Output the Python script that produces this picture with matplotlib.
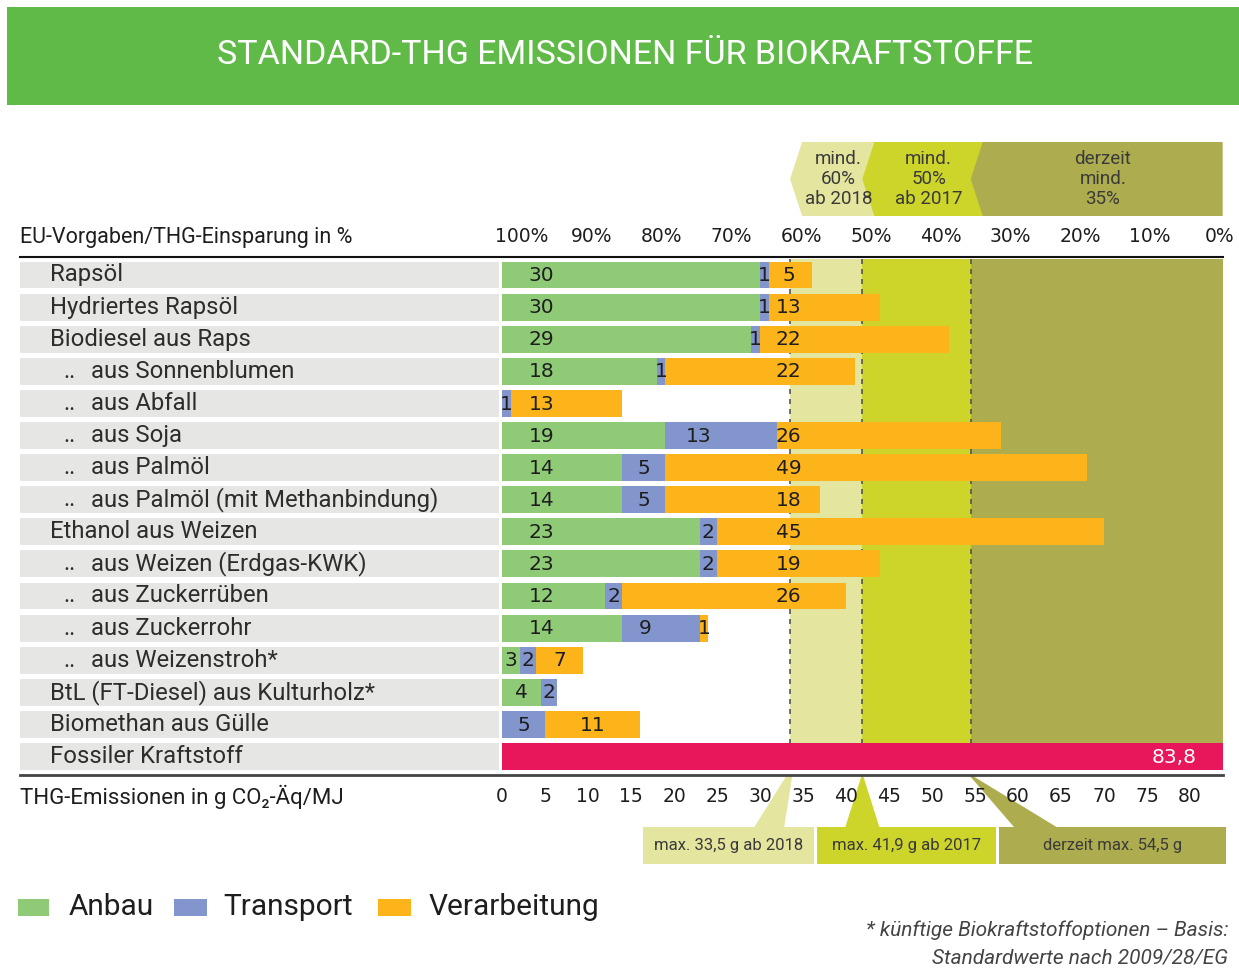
import matplotlib
matplotlib.use('Agg')
import matplotlib.pyplot as plt
from matplotlib.patches import Polygon, Rectangle

NARROW = 'Roboto'
LABEL_FONT = 'Roboto'
NUM_FONT = 'DejaVu Sans'

# ---------------- data ----------------
categories = [
    'Rapsöl', 'Hydriertes Rapsöl', 'Biodiesel aus Raps', '.. aus Sonnenblumen',
    '.. aus Abfall', '.. aus Soja', '.. aus Palmöl',
    '.. aus Palmöl (mit Methanbindung)', 'Ethanol aus Weizen',
    '.. aus Weizen (Erdgas-KWK)', '.. aus Zuckerrüben', '.. aus Zuckerrohr',
    '.. aus Weizenstroh*', 'BtL (FT-Diesel) aus Kulturholz*',
    'Biomethan aus Gülle', 'Fossiler Kraftstoff']

# drawn segment lengths (g CO2-Äq/MJ)
anbau = [30, 30, 29, 18, 0, 19, 14, 14, 23, 23, 12, 14, 2.1, 4.5, 0]
transport = [1, 1, 1, 1, 1, 13, 5, 5, 2, 2, 2, 9, 1.9, 1.9, 5]
verarbeitung = [5, 13, 22, 22, 13, 26, 49, 18, 45, 19, 26, 1, 5.4, 0, 11]
# printed labels
anbau_labels = ['30', '30', '29', '18', '', '19', '14', '14', '23', '23', '12', '14', '3', '4', '']
transport_labels = ['1', '1', '1', '1', '1', '13', '5', '5', '2', '2', '2', '9', '2', '2', '5']
verarbeitung_labels = ['5', '13', '22', '22', '13', '26', '49', '18', '45', '19', '26', '1', '7', '', '11']

fossil = 83.8
fossil_label = '83,8'

limits = [33.5, 41.9, 54.5]
limit_header = ['mind.\n60%\nab 2018', 'mind.\n50%\nab 2017', 'derzeit\nmind.\n35%']
limit_boxes = ['max. 33,5 g ab 2018', 'max. 41,9 g ab 2017', 'derzeit max. 54,5 g']
pct_ticks = [100, 90, 80, 70, 60, 50, 40, 30, 20, 10, 0]
emis_ticks = list(range(0, 85, 5))
series_names = ['Anbau', 'Transport', 'Verarbeitung']

# ---------------- style ----------------
C_TITLE = '#5fba47'
C_GRAY = '#e6e6e4'
C_A, C_T, C_V = '#8fcb76', '#8296cd', '#fdb41b'
C_FOSSIL = '#e8165a'
ZONE = ['#e4e59e', '#cdd52a', '#adad50']
TXT = '#1e1e1e'
ROWTXT = '#2d2d2d'

W, H = 1239, 969
PX = 8.6          # pixels per data unit
X0 = 502          # pixel of value 0
ROW0, ROWH = 275, 32.1


def X(px):
    return (px - X0) / PX


def Y(py):
    return (py - ROW0) / ROWH


fig = plt.figure(figsize=(W / 100, H / 100), dpi=100)
ax = fig.add_axes([0, 0, 1, 1])
ax.set_xlim(X(0), X(W))
ax.set_ylim(Y(H), Y(0))
ax.axis('off')

# title band
ax.add_patch(Rectangle((X(7), Y(7)), X(W) - X(7), Y(105) - Y(7), color=C_TITLE, lw=0))
ax.text(X(625), Y(55), 'STANDARD-THG EMISSIONEN FÜR BIOKRAFTSTOFFE', color='white',
        fontsize=24.5, family=NARROW, ha='center', va='center')

n = len(categories)
rows = list(range(n))
BH = 0.84

# header chevrons
ht, hb, hm = Y(142), Y(216), Y(179)
dep = 1.4
edges = limits + [fossil]
for i in range(3):
    a = edges[i]
    b = edges[i + 1] + (dep + 0.5 if i < 2 else 0)
    poly = [(a, hm), (a + dep, ht), (b, ht), (b, hb), (a + dep, hb)]
    ax.add_patch(Polygon(poly, closed=True, color=ZONE[i], lw=0, zorder=1 + i * 0.01))
    cx = (edges[i] + dep + edges[i + 1] + (dep if i < 2 else 0)) / 2
    ax.text(cx, hm, limit_header[i], ha='center', va='center', fontsize=13.5,
            family=NARROW, color='#3a3a3a', linespacing=1.12, zorder=3)

# upper axis labels
ax.text(X(20), Y(237), 'EU-Vorgaben/THG-Einsparung in %', family=LABEL_FONT, fontsize=15.5,
        color=TXT, ha='left', va='center')
p_left, p_right = X(522), X(1220)
for p in pct_ticks:
    ax.text(p_left + (p_right - p_left) * (100 - p) / 100, Y(237), f'{p}%', family=NUM_FONT,
            fontsize=13.5, color=TXT, ha='center', va='center')

# zones behind bars
ztop, zbot = -0.5, n - 1 - BH / 2 + 0.02
for i in range(3):
    ax.add_patch(Rectangle((edges[i], ztop), edges[i + 1] - edges[i], zbot - ztop,
                           color=ZONE[i], lw=0, zorder=0.5))
    ax.plot([limits[i], limits[i]], [ztop, zbot], color='#555555', lw=1.2,
            ls=(0, (3, 3)), zorder=1.5)

# row backgrounds and labels
ax.barh(rows, X(499) - X(20), left=X(20), height=BH, color=C_GRAY, zorder=1)
FS_ROW = 17.2
for r, name in zip(rows, categories):
    if name.startswith('.. '):
        ax.text(X(63), r, '..', family=LABEL_FONT, fontsize=FS_ROW, color=ROWTXT,
                ha='left', va='center')
        ax.text(X(91), r, name[3:], family=LABEL_FONT, fontsize=FS_ROW, color=ROWTXT,
                ha='left', va='center')
    else:
        ax.text(X(50), r, name, family=LABEL_FONT, fontsize=FS_ROW, color=ROWTXT,
                ha='left', va='center')

# stacked bars
bio_rows = rows[:-1]
lefts_t = [a for a in anbau]
lefts_v = [a + t for a, t in zip(anbau, transport)]
ax.barh(bio_rows, anbau, left=0, height=BH, color=C_A, zorder=2)
ax.barh(bio_rows, transport, left=lefts_t, height=BH, color=C_T, zorder=2)
ax.barh(bio_rows, verarbeitung, left=lefts_v, height=BH, color=C_V, zorder=2)
ax.barh([rows[-1]], [fossil], left=0, height=BH, color=C_FOSSIL, zorder=2)

COLS = (4.6, 33.3)
M = 1.2


def label_x(start, width, kind):
    end = start + width
    for col in COLS:
        if start + M <= col <= end - M:
            return col
    if kind == 't' and width > 6:
        return start + 0.3 * width
    return start + width / 2


for r in bio_rows:
    segs = [(0, anbau[r], anbau_labels[r], 'a'),
            (lefts_t[r], transport[r], transport_labels[r], 't'),
            (lefts_v[r], verarbeitung[r], verarbeitung_labels[r], 'v')]
    for s, w, lab, kind in segs:
        if lab and w > 0:
            ax.text(label_x(s, w, kind), r + 0.02, lab, family=NUM_FONT, fontsize=14.5,
                    color=TXT, ha='center', va='center', zorder=3)
ax.text(fossil - 3.0, rows[-1] + 0.02, fossil_label, family=NUM_FONT, fontsize=14.5,
        color='white', ha='right', va='center', zorder=3)

# horizontal rules
ax.plot([X(20), fossil], [Y(257), Y(257)], color='#111111', lw=1.5, zorder=3)
ax.plot([X(20), fossil], [Y(775), Y(775)], color='#444444', lw=2, zorder=3)

# lower axis
ax.text(X(20), Y(797), 'THG-Emissionen in g CO₂-Äq/MJ', family=[LABEL_FONT, 'DejaVu Sans'],
        fontsize=16, color=TXT, ha='left', va='center')
for t in emis_ticks:
    ax.text(t, Y(797), str(t), family=NUM_FONT, fontsize=13.5, color=TXT,
            ha='center', va='center', zorder=3)

# callout boxes with wedges
bt, bb = Y(827), Y(864)
box_px = [(643, 814), (817, 996), (999, 1226)]
wedge = [((-4.2, -0.7), (-0.45, 0.25)), ((-2.0, 2.0), (-0.1, 0.1)), ((5.1, 10.1), (-0.1, 0.25))]
for i in range(3):
    x1, x2 = X(box_px[i][0]), X(box_px[i][1])
    ax.add_patch(Rectangle((x1, bt), x2 - x1, bb - bt, color=ZONE[i], lw=0, zorder=1))
    (b1, b2), (a1, a2) = wedge[i]
    L = limits[i]
    ax.add_patch(Polygon([(L + b1, bt + 0.02), (L + b2, bt + 0.02), (L + a2, Y(776)),
                          (L + a1, Y(776))], closed=True, color=ZONE[i], lw=0, zorder=1))
    ax.text((x1 + x2) / 2, (bt + bb) / 2, limit_boxes[i], family=NARROW, fontsize=12,
            color='#3a3a3a', ha='center', va='center', zorder=3)

# legend
leg_sq = [(18, 49), (174, 207), (378, 411)]
leg_tx = [69, 223, 429]
for (s1, s2), tx, name, col in zip(leg_sq, leg_tx, series_names, [C_A, C_T, C_V]):
    ax.add_patch(Rectangle((X(s1), Y(899)), X(s2) - X(s1), Y(916) - Y(899), color=col, lw=0))
    ax.text(X(tx), Y(907), name, family=NARROW, fontsize=21.5, color=TXT, ha='left', va='center')

# footnote
ax.text(X(1228), Y(930), '* künftige Biokraftstoffoptionen – Basis:', family=NARROW,
        style='italic', fontsize=15, color='#444444', ha='right', va='center')
ax.text(X(1228), Y(958), 'Standardwerte nach 2009/28/EG', family=NARROW,
        style='italic', fontsize=15, color='#444444', ha='right', va='center')

fig.savefig('out.png', dpi=100)
